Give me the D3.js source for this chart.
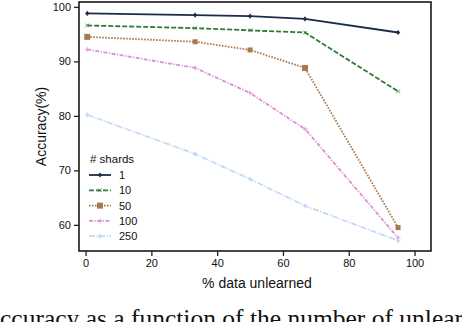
<!DOCTYPE html>
<html>
<head>
<meta charset="utf-8">
<script src="https://cdn.jsdelivr.net/npm/d3@7"></script>
<style>
  body { margin: 0; background: #fff; }
  svg { display: block; }
</style>
</head>
<body>
<div id="chart"></div>
<script>
// data
const xValues = [0.5, 33.3, 50, 66.7, 95];
const shards = ["1", "10", "50", "100", "250"];
const acc1 = [98.8, 98.5, 98.3, 97.8, 95.3];
const acc10 = [96.6, 96.1, 95.7, 95.3, 84.5];
const acc50 = [94.5, 93.6, 92.1, 88.8, 59.5];
const acc100 = [92.2, 88.8, 84.2, 77.6, 57.6];
const acc250 = [80.2, 73.0, 68.4, 63.5, 57.1];
const xTicks = [0, 20, 40, 60, 80, 100];
const yTicks = [60, 70, 80, 90, 100];

const width = 462;
const height = 322;
const plotLeft = 79, plotRight = 431, plotTop = 2, plotBottom = 251;

const colors = ["#1c2b4b", "#2f7a38", "#a87a4c", "#dc8ed4", "#c4d9f4"];
const dashes = [null, "5,2", "1.6,1.4", "4,1.5,1.2,1.5", "6,1.5,1.2,1.5"];
const markers = ["diamond", "x", "square", "plus", "diamond"];
const allSeries = [acc1, acc10, acc50, acc100, acc250];

const svg = d3.select("#chart")
  .append("svg")
  .attr("width", width)
  .attr("height", height)
  .style("font-family", "'Liberation Sans', Arial, sans-serif");

const x = d3.scaleLinear().domain([-2, 105]).range([plotLeft, plotRight]);
const y = d3.scaleLinear().domain([55.2, 100.9]).range([plotBottom, plotTop]);

// axes
const xAxis = d3.axisBottom(x).tickValues(xTicks).tickSize(5).tickPadding(3);
const yAxis = d3.axisLeft(y).tickValues(yTicks).tickSize(5).tickPadding(3);

const gx = svg.append("g")
  .attr("transform", `translate(0, ${plotBottom})`)
  .call(xAxis);
const gy = svg.append("g")
  .attr("transform", `translate(${plotLeft}, 0)`)
  .call(yAxis);

[gx, gy].forEach((g) => {
  g.select(".domain").remove();
  g.selectAll(".tick line").attr("stroke", "#222").attr("stroke-width", 1.3);
  g.selectAll(".tick text").attr("font-size", "11px").attr("fill", "#111");
});

// frame
svg.append("rect")
  .attr("x", plotLeft)
  .attr("y", plotTop)
  .attr("width", plotRight - plotLeft)
  .attr("height", plotBottom - plotTop)
  .attr("fill", "none")
  .attr("stroke", "#1a1a1a")
  .attr("stroke-width", 1.6);

function drawMarker(g, type, cx, cy, color, s) {
  if (type === "square") {
    g.append("rect")
      .attr("x", cx - s).attr("y", cy - s)
      .attr("width", 2 * s).attr("height", 2 * s)
      .attr("fill", color);
  } else if (type === "diamond") {
    g.append("path")
      .attr("d", `M${cx},${cy - s}L${cx + s * 0.8},${cy}L${cx},${cy + s}L${cx - s * 0.8},${cy}Z`)
      .attr("fill", color);
  } else if (type === "x") {
    g.append("path")
      .attr("d", `M${cx - s * 0.7},${cy - s * 0.7}L${cx + s * 0.7},${cy + s * 0.7}M${cx - s * 0.7},${cy + s * 0.7}L${cx + s * 0.7},${cy - s * 0.7}`)
      .attr("stroke", color).attr("stroke-width", 0.8);
  } else if (type === "plus") {
    g.append("path")
      .attr("d", `M${cx - s},${cy}L${cx + s},${cy}M${cx},${cy - s}L${cx},${cy + s}`)
      .attr("stroke", color).attr("stroke-width", 0.8);
  }
}

const line = d3.line()
  .x((d, i) => x(xValues[i]))
  .y((d) => y(d));

// lines
allSeries.forEach((vals, k) => {
  const g = svg.append("g").attr("class", "series");
  g.append("path")
    .datum(vals)
    .attr("d", line)
    .attr("fill", "none")
    .attr("stroke", colors[k])
    .attr("stroke-width", 1.8)
    .attr("stroke-dasharray", dashes[k]);
  vals.forEach((v, i) => {
    const s = markers[k] === "square" ? (i === 3 || i === 0 ? 3 : 2.5) : 2.6;
    drawMarker(g, markers[k], x(xValues[i]), y(v), colors[k], s);
  });
});

// legend
const legend = svg.append("g").attr("transform", "translate(89, 0)");
legend.append("text")
  .attr("x", 1)
  .attr("y", 163)
  .attr("font-size", "11.5px")
  .attr("fill", "#111")
  .text("# shards");

shards.forEach((name, k) => {
  const ly = 175 + k * 15.3;
  legend.append("line")
    .attr("x1", 0).attr("x2", 22)
    .attr("y1", ly).attr("y2", ly)
    .attr("stroke", colors[k])
    .attr("stroke-width", 1.8)
    .attr("stroke-dasharray", dashes[k]);
  drawMarker(legend, markers[k], 11, ly, colors[k], markers[k] === "square" ? 3 : 2.6);
  legend.append("text")
    .attr("x", 30)
    .attr("y", ly + 4)
    .attr("font-size", "11px")
    .attr("fill", "#111")
    .text(name);
});

// axis titles
svg.append("text")
  .attr("x", (plotLeft + plotRight) / 2 + 2)
  .attr("y", 288)
  .attr("text-anchor", "middle")
  .attr("font-size", "14px")
  .attr("fill", "#111")
  .text("% data unlearned");

svg.append("text")
  .attr("transform", `translate(46, ${(plotTop + plotBottom) / 2}) rotate(-90)`)
  .attr("text-anchor", "middle")
  .attr("font-size", "14px")
  .attr("fill", "#111")
  .text("Accuracy(%)");

// caption of the source figure, cut by the bottom edge as in the reference
svg.append("text")
  .attr("x", 0)
  .attr("y", 327)
  .attr("font-family", "'Liberation Serif', 'Times New Roman', serif")
  .attr("font-size", "25.5px")
  .attr("fill", "#111")
  .text("ccuracy as a function of the number of unlear");
</script>
</body>
</html>
